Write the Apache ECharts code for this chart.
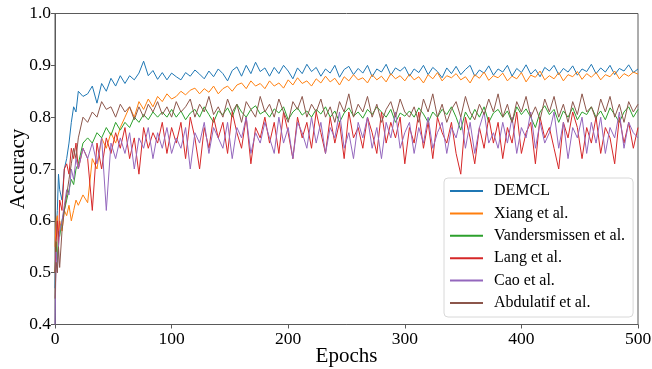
<!DOCTYPE html>
<html>
<head>
<meta charset="utf-8">
<script src="https://cdn.jsdelivr.net/npm/echarts@6/dist/echarts.min.js"></script>
<style>
  html, body { margin: 0; padding: 0; background: #fff; }
  #chart { width: 652px; height: 369px; }
</style>
</head>
<body>
<div id="chart"></div>
<script>
// epochs sampled from the curves (denser at the start where it climbs fast)
const epochs = [0, 1, 2, 3, 4, 6, 8, 10, 12, 14, 16, 18, 20,
  24, 28, 32, 36, 40, 44, 48, 52, 56, 60,
  64, 68, 72, 76, 80, 84, 88, 92, 96, 100,
  104, 108, 112, 116, 120, 124, 128, 132, 136, 140,
  144, 148, 152, 156, 160, 164, 168, 172, 176, 180,
  184, 188, 192, 196, 200, 204, 208, 212, 216, 220,
  224, 228, 232, 236, 240, 244, 248, 252, 256, 260,
  264, 268, 272, 276, 280, 284, 288, 292, 296, 300,
  304, 308, 312, 316, 320, 324, 328, 332, 336, 340,
  344, 348, 352, 356, 360, 364, 368, 372, 376, 380,
  384, 388, 392, 396, 400, 404, 408, 412, 416, 420,
  424, 428, 432, 436, 440, 444, 448, 452, 456, 460,
  464, 468, 472, 476, 480, 484, 488, 492, 496, 500]

const demcl = [0.47, 0.58, 0.62, 0.69, 0.66, 0.64, 0.70, 0.72, 0.75, 0.79, 0.82, 0.81, 0.85,
  0.84, 0.845, 0.86, 0.827, 0.865, 0.85, 0.875, 0.86, 0.88, 0.865,
  0.88, 0.872, 0.885, 0.908, 0.88, 0.89, 0.873, 0.886, 0.872, 0.885,
  0.878, 0.872, 0.886, 0.879, 0.891, 0.883, 0.874, 0.889, 0.878, 0.893,
  0.884, 0.87, 0.89, 0.897, 0.879, 0.9, 0.884, 0.906, 0.888, 0.895,
  0.879, 0.896, 0.884, 0.9, 0.889, 0.874, 0.895, 0.884, 0.902, 0.888,
  0.896, 0.879, 0.893, 0.885, 0.9, 0.877, 0.892, 0.898, 0.882, 0.894,
  0.885, 0.9, 0.878, 0.893, 0.887, 0.902, 0.881, 0.895, 0.889, 0.897,
  0.879, 0.893, 0.886, 0.9, 0.882, 0.896, 0.888, 0.876, 0.895, 0.884,
  0.898, 0.882, 0.892, 0.9, 0.879, 0.891, 0.885, 0.899, 0.881, 0.893,
  0.887, 0.9, 0.879, 0.894, 0.886, 0.901, 0.883, 0.892, 0.878, 0.896,
  0.889, 0.9, 0.882, 0.894, 0.887, 0.899, 0.881, 0.893, 0.888, 0.902,
  0.884, 0.895, 0.887, 0.9, 0.882, 0.894, 0.889, 0.901, 0.886, 0.893]

const xiang = [0.55, 0.60, 0.61, 0.57, 0.60, 0.58, 0.62, 0.61, 0.63, 0.60, 0.62, 0.64, 0.63,
  0.65, 0.635, 0.72, 0.70, 0.76, 0.74, 0.77, 0.75, 0.78, 0.80,
  0.82, 0.80, 0.83, 0.815, 0.835, 0.82, 0.84, 0.83, 0.845, 0.835,
  0.84, 0.85, 0.843, 0.852, 0.856, 0.845, 0.855, 0.848, 0.86, 0.845,
  0.855, 0.86, 0.85, 0.862, 0.866, 0.855, 0.87, 0.86, 0.865, 0.855,
  0.87, 0.86, 0.866, 0.856, 0.872, 0.862, 0.876, 0.865, 0.87, 0.86,
  0.874, 0.866, 0.879, 0.868, 0.875, 0.862, 0.878, 0.87, 0.882, 0.872,
  0.876, 0.866, 0.882, 0.872, 0.879, 0.868, 0.884, 0.874, 0.88, 0.87,
  0.883, 0.872, 0.878, 0.866, 0.882, 0.874, 0.886, 0.87, 0.88, 0.876,
  0.884, 0.872, 0.878, 0.866, 0.882, 0.875, 0.887, 0.871, 0.88, 0.876,
  0.885, 0.87, 0.879, 0.874, 0.886, 0.868, 0.881, 0.877, 0.889, 0.872,
  0.88, 0.874, 0.886, 0.87, 0.882, 0.878, 0.888, 0.873, 0.884, 0.877,
  0.886, 0.872, 0.882, 0.878, 0.889, 0.874, 0.884, 0.879, 0.887, 0.883]

const vandersmissen = [0.50, 0.56, 0.52, 0.58, 0.57, 0.60, 0.62, 0.64, 0.66, 0.68, 0.67, 0.70, 0.71,
  0.75, 0.76, 0.75, 0.77, 0.76, 0.78, 0.765, 0.79, 0.775, 0.79,
  0.78, 0.80, 0.79, 0.805, 0.795, 0.81, 0.80, 0.81, 0.80, 0.815,
  0.80, 0.812, 0.795, 0.808, 0.815, 0.80, 0.82, 0.805, 0.79, 0.812,
  0.805, 0.818, 0.80, 0.825, 0.81, 0.80, 0.815, 0.822, 0.806, 0.812,
  0.80, 0.816, 0.808, 0.82, 0.795, 0.81, 0.818, 0.804, 0.812, 0.80,
  0.815, 0.806, 0.82, 0.80, 0.812, 0.79, 0.808, 0.818, 0.802, 0.81,
  0.798, 0.815, 0.805, 0.82, 0.81, 0.80, 0.815, 0.79, 0.808, 0.802,
  0.812, 0.80, 0.818, 0.806, 0.79, 0.81, 0.80, 0.815, 0.805, 0.82,
  0.80, 0.775, 0.81, 0.795, 0.815, 0.80, 0.82, 0.79, 0.808, 0.815,
  0.80, 0.812, 0.79, 0.82, 0.805, 0.816, 0.80, 0.78, 0.81, 0.822,
  0.805, 0.815, 0.79, 0.812, 0.80, 0.818, 0.795, 0.81, 0.805, 0.82,
  0.80, 0.812, 0.795, 0.818, 0.805, 0.79, 0.81, 0.82, 0.80, 0.815]

const lang = [0.50, 0.56, 0.60, 0.55, 0.64, 0.62, 0.70, 0.71, 0.69, 0.74, 0.72, 0.75, 0.70,
  0.74, 0.72, 0.62, 0.75, 0.70, 0.76, 0.73, 0.77, 0.74, 0.78,
  0.72, 0.76, 0.69, 0.78, 0.74, 0.77, 0.75, 0.79, 0.73, 0.78,
  0.75, 0.79, 0.72, 0.80, 0.76, 0.70, 0.78, 0.74, 0.80, 0.76,
  0.79, 0.73, 0.81, 0.77, 0.74, 0.80, 0.71, 0.78, 0.76, 0.80,
  0.75, 0.79, 0.73, 0.81, 0.77, 0.72, 0.80, 0.76, 0.79, 0.74,
  0.81, 0.77, 0.73, 0.80, 0.75, 0.79, 0.72, 0.81, 0.76, 0.78,
  0.74, 0.80, 0.77, 0.73, 0.81, 0.75, 0.79, 0.76, 0.80, 0.71,
  0.78, 0.75, 0.81, 0.74, 0.79, 0.72, 0.80, 0.77, 0.75, 0.79,
  0.73, 0.69, 0.80, 0.76, 0.71, 0.78, 0.74, 0.80, 0.75, 0.79,
  0.72, 0.78, 0.75, 0.81, 0.73, 0.77, 0.79, 0.71, 0.80, 0.76,
  0.78, 0.74, 0.70, 0.79, 0.76, 0.81, 0.78, 0.72, 0.78, 0.75,
  0.80, 0.73, 0.78, 0.76, 0.71, 0.80, 0.75, 0.79, 0.74, 0.78]

const cao = [0.40, 0.54, 0.50, 0.55, 0.58, 0.60, 0.63, 0.66, 0.65, 0.70, 0.68, 0.72, 0.70,
  0.74, 0.72, 0.75, 0.71, 0.76, 0.62, 0.75, 0.72, 0.76, 0.73,
  0.77, 0.70, 0.76, 0.74, 0.78, 0.72, 0.77, 0.74, 0.78, 0.73,
  0.76, 0.74, 0.78, 0.70, 0.77, 0.75, 0.79, 0.73, 0.78, 0.76,
  0.74, 0.79, 0.72, 0.78, 0.76, 0.80, 0.73, 0.77, 0.75, 0.79,
  0.76, 0.73, 0.80, 0.75, 0.78, 0.72, 0.79, 0.77, 0.74, 0.80,
  0.75, 0.79, 0.73, 0.78, 0.76, 0.81, 0.74, 0.77, 0.72, 0.79,
  0.76, 0.80, 0.74, 0.78, 0.72, 0.79, 0.76, 0.81, 0.74, 0.77,
  0.79, 0.73, 0.78, 0.75, 0.80, 0.74, 0.77, 0.79, 0.73, 0.78,
  0.76, 0.80, 0.74, 0.79, 0.73, 0.78, 0.81, 0.75, 0.77, 0.74,
  0.79, 0.75, 0.80, 0.73, 0.78, 0.76, 0.81, 0.74, 0.79, 0.75,
  0.77, 0.81, 0.74, 0.79, 0.72, 0.78, 0.76, 0.80, 0.73, 0.79,
  0.75, 0.80, 0.73, 0.78, 0.76, 0.81, 0.74, 0.79, 0.77, 0.76]

const abdulatif = [0.45, 0.52, 0.50, 0.55, 0.51, 0.58, 0.62, 0.65, 0.68, 0.71, 0.74, 0.72, 0.76,
  0.80, 0.79, 0.81, 0.80, 0.83, 0.815, 0.82, 0.80, 0.825, 0.81,
  0.82, 0.795, 0.82, 0.80, 0.825, 0.81, 0.83, 0.805, 0.82, 0.80,
  0.83, 0.81, 0.82, 0.835, 0.80, 0.825, 0.81, 0.84, 0.805, 0.82,
  0.80, 0.835, 0.81, 0.825, 0.79, 0.83, 0.815, 0.80, 0.84, 0.81,
  0.825, 0.80, 0.835, 0.81, 0.79, 0.83, 0.815, 0.84, 0.80, 0.825,
  0.81, 0.835, 0.80, 0.82, 0.79, 0.83, 0.81, 0.845, 0.80, 0.825,
  0.81, 0.84, 0.80, 0.825, 0.79, 0.815, 0.83, 0.80, 0.835, 0.81,
  0.80, 0.82, 0.79, 0.835, 0.81, 0.845, 0.80, 0.825, 0.79, 0.815,
  0.83, 0.80, 0.84, 0.81, 0.795, 0.825, 0.805, 0.835, 0.81, 0.845,
  0.80, 0.825, 0.79, 0.83, 0.81, 0.84, 0.80, 0.82, 0.795, 0.835,
  0.81, 0.84, 0.80, 0.825, 0.79, 0.83, 0.805, 0.845, 0.81, 0.82,
  0.795, 0.835, 0.81, 0.84, 0.80, 0.825, 0.79, 0.83, 0.81, 0.825]

const seriesNames = ["DEMCL", "Xiang et al.", "Vandersmissen et al.", "Lang et al.", "Cao et al.", "Abdulatif et al."]
const seriesValues = [demcl, xiang, vandersmissen, lang, cao, abdulatif]
const colors = ["#1f77b4", "#ff7f0e", "#2ca02c", "#d62728", "#9467bd", "#8c564b"]

const xTicks = [0, 100, 200, 300, 400, 500]
const yTicks = [0.4, 0.5, 0.6, 0.7, 0.8, 0.9, 1.0]

const font = "'Liberation Serif', 'DejaVu Serif', serif"
const frame = "#5a5a5a"

const chart = echarts.init(document.getElementById("chart"), null, { renderer: "canvas" })

chart.setOption({
  animation: false,
  color: colors,
  textStyle: { fontFamily: font },
  grid: {
    left: 55,
    right: 14,
    top: 13.5,
    bottom: 44.5,
    outerBoundsMode: "none",
    containLabel: false,
    show: true,
    borderColor: frame,
    borderWidth: 1,
  },
  xAxis: {
    type: "value",
    min: xTicks[0],
    max: xTicks[xTicks.length - 1],
    interval: 100,
    name: "Epochs",
    nameLocation: "middle",
    nameMoveOverlap: false,
    nameGap: 21,
    nameTextStyle: { fontFamily: font, fontSize: 21, color: "#000" },
    axisLine: { show: true, lineStyle: { color: frame, width: 1 } },
    axisTick: { show: true, inside: false, length: 4, lineStyle: { color: frame } },
    axisLabel: { fontFamily: font, fontSize: 17.5, color: "#000", margin: 6 },
    splitLine: { show: false },
  },
  yAxis: {
    type: "value",
    min: yTicks[0],
    max: yTicks[yTicks.length - 1],
    interval: 0.1,
    name: "Accuracy",
    nameLocation: "middle",
    nameMoveOverlap: false,
    nameGap: 26,
    nameTextStyle: { fontFamily: font, fontSize: 21, color: "#000" },
    axisLine: { show: true, lineStyle: { color: frame, width: 1 } },
    axisTick: { show: true, inside: false, length: 4, lineStyle: { color: frame } },
    axisLabel: {
      fontFamily: font,
      fontSize: 17.5,
      color: "#000",
      margin: 4,
      formatter: (v) => v.toFixed(1),
    },
    splitLine: { show: false },
  },
  legend: {
    orient: "vertical",
    left: 444,
    top: 178,
    padding: [5, 8, 6, 6],
    itemGap: 6.4,
    itemWidth: 33,
    itemHeight: 2,
    icon: "rect",
    backgroundColor: "#fff",
    borderColor: "#d8d8d8",
    borderWidth: 1,
    borderRadius: 4,
    textStyle: { fontFamily: font, fontSize: 16, color: "#000", padding: [0, 0, 0, 6], lineHeight: 16 },
    data: seriesNames,
  },
  series: seriesNames.map((name, i) => ({
    name,
    type: "line",
    data: epochs.map((e, j) => [e, seriesValues[i][j]]),
    symbol: "none",
    lineStyle: { width: 1, color: colors[i] },
    itemStyle: { color: colors[i] },
    z: 2 + i,
  })),
})

window.addEventListener("resize", () => chart.resize())
</script>
</body>
</html>
